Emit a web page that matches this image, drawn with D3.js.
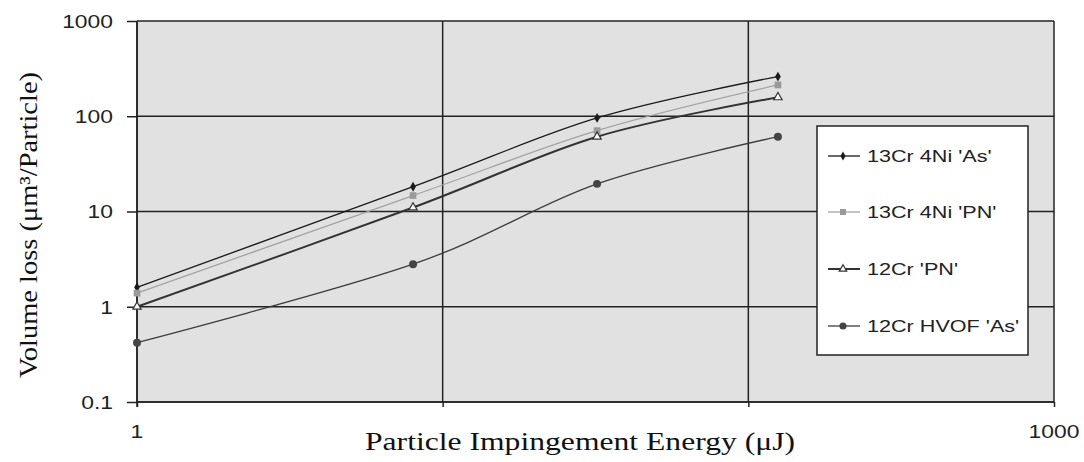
<!DOCTYPE html>
<html><head><meta charset="utf-8">
<script src="https://cdn.jsdelivr.net/npm/d3@7"></script>
<style>body{margin:0;background:#fff}svg{display:block}</style>
</head><body>
<svg id="c" width="1084" height="462"></svg>
<script>
const energies = [1, 8, 32, 125];
const seriesNames = ["13Cr 4Ni 'As'", "13Cr 4Ni 'PN'", "12Cr 'PN'", "12Cr HVOF 'As'"];
const s13Cr4NiAs = [1.6, 18.2, 96, 261];
const s13Cr4NiPN = [1.39, 14.7, 70.6, 213];
const s12CrPN = [1.0, 11, 61, 158];
const s12CrHVOFAs = [0.42, 2.8, 19.5, 61];
const yTicks = [0.1, 1, 10, 100, 1000];
const xTicks = [1, 10, 100, 1000];
const xTickLabels = ["1", "1000"];

const svg = d3.select("#c");
const L = 137, R = 1054, T = 21, B = 402;
const STRETCH = 1.27;
const x = d3.scaleLog().domain([1, 1000]).range([L, R]);
const y = d3.scaleLog().domain([0.1, 1000]).range([B, T]);

svg.append("rect").attr("x", L).attr("y", T).attr("width", R - L).attr("height", B - T).attr("fill", "#e1e1e1");

// gridlines
svg.append("g").selectAll("line").data(yTicks).join("line")
  .attr("x1", L).attr("x2", R).attr("y1", d => y(d)).attr("y2", d => y(d))
  .attr("stroke", "#222").attr("stroke-width", 1.5);
svg.append("g").selectAll("line").data(xTicks).join("line")
  .attr("x1", d => x(d)).attr("x2", d => x(d)).attr("y1", T).attr("y2", B)
  .attr("stroke", "#222").attr("stroke-width", 1.5);

// y axis
const yAxis = svg.append("g").attr("transform", `translate(${L},0)`)
  .call(d3.axisLeft(y).tickValues(yTicks).tickSize(10).tickPadding(14)
    .tickFormat(d => d3.format("~g")(d)));
yAxis.select(".domain").attr("stroke", "#222").attr("stroke-width", 1.5).attr("d", `M0,${T}V${B + 5}`);
yAxis.selectAll(".tick line").attr("stroke", "#222").attr("stroke-width", 1.5);
yAxis.selectAll(".tick text").attr("font-family", "Liberation Sans, Arial, sans-serif")
  .attr("font-size", 18).attr("fill", "#222").attr("class", "stretch").attr("dy", "0.36em");

// x axis
const xAxis = svg.append("g").attr("transform", `translate(0,${B})`)
  .call(d3.axisBottom(x).tickValues(xTicks).tickSize(5).tickFormat(""));
xAxis.select(".domain").attr("stroke", "#222").attr("stroke-width", 1.5).attr("d", `M${L},0H${R}`);
xAxis.selectAll(".tick line").attr("stroke", "#222").attr("stroke-width", 1.5);
svg.append("g").selectAll("text").data(xTickLabels).join("text")
  .attr("x", d => x(+d)).attr("y", 438).attr("text-anchor", "middle")
  .attr("font-family", "Liberation Sans, Arial, sans-serif")
  .attr("font-size", 18).attr("fill", "#222").attr("class", "stretch")
  .text(d => d);

// titles
svg.append("text").attr("x", 580).attr("y", 450).attr("text-anchor", "middle")
  .attr("font-family", "Liberation Serif, Times New Roman, serif").attr("font-size", 26)
  .attr("fill", "#111").attr("textLength", 430).attr("lengthAdjust", "spacingAndGlyphs")
  .text("Particle Impingement Energy (μJ)");
svg.append("text").attr("transform", "translate(37,225) rotate(-90)").attr("text-anchor", "middle")
  .attr("font-family", "Liberation Serif, Times New Roman, serif").attr("font-size", 25)
  .attr("fill", "#111").attr("textLength", 306).attr("lengthAdjust", "spacingAndGlyphs")
  .text("Volume loss (μm³/Particle)");

const styles = [
  {vals: s13Cr4NiAs, color: "#1a1a1a", w: 1.3, sym: d3.symbolDiamond, size: 28, fill: "#1a1a1a", stroke: "none"},
  {vals: s13Cr4NiPN, color: "#a3a3a3", w: 1.3, sym: d3.symbolSquare, size: 45, fill: "#9a9a9a", stroke: "none"},
  {vals: s12CrPN, color: "#333", w: 2, sym: d3.symbolTriangle, size: 30, fill: "#fff", stroke: "#333"},
  {vals: s12CrHVOFAs, color: "#3c3c3c", w: 1.3, sym: d3.symbolCircle, size: 50, fill: "#444", stroke: "none"}
];

const line = d3.line().x(d => x(d[0])).y(d => y(d[1])).curve(d3.curveCardinal.tension(0));
styles.forEach(s => {
  const pts = energies.map((e, i) => [e, s.vals[i]]);
  svg.append("path").attr("d", line(pts)).attr("fill", "none").attr("stroke", s.color).attr("stroke-width", s.w);
  svg.append("g").selectAll("path").data(pts).join("path")
    .attr("transform", d => `translate(${x(d[0])},${y(d[1])})`)
    .attr("d", d3.symbol().type(s.sym).size(s.size))
    .attr("fill", s.fill).attr("stroke", s.stroke).attr("stroke-width", 1.2);
});

// legend
const lg = svg.append("g");
lg.append("rect").attr("x", 817).attr("y", 126).attr("width", 211).attr("height", 229)
  .attr("fill", "#fff").attr("stroke", "#222").attr("stroke-width", 1.5);
const legY = [156, 212, 269, 326];
styles.forEach((s, i) => {
  lg.append("line").attr("x1", 828).attr("x2", 860).attr("y1", legY[i]).attr("y2", legY[i])
    .attr("stroke", s.color).attr("stroke-width", s.w);
  lg.append("path").attr("transform", `translate(843,${legY[i]})`)
    .attr("d", d3.symbol().type(s.sym).size(s.size * 0.8))
    .attr("fill", s.fill).attr("stroke", s.stroke).attr("stroke-width", 1.2);
  lg.append("text").attr("x", 867).attr("y", legY[i] + 6)
    .attr("font-family", "Liberation Sans, Arial, sans-serif").attr("font-size", 17)
    .attr("fill", "#222").attr("class", "stretch").text(seriesNames[i]);
});

svg.selectAll("text.stretch").each(function() {
  const w = this.getComputedTextLength();
  d3.select(this).attr("textLength", w * STRETCH).attr("lengthAdjust", "spacingAndGlyphs");
});
</script>
</body></html>
